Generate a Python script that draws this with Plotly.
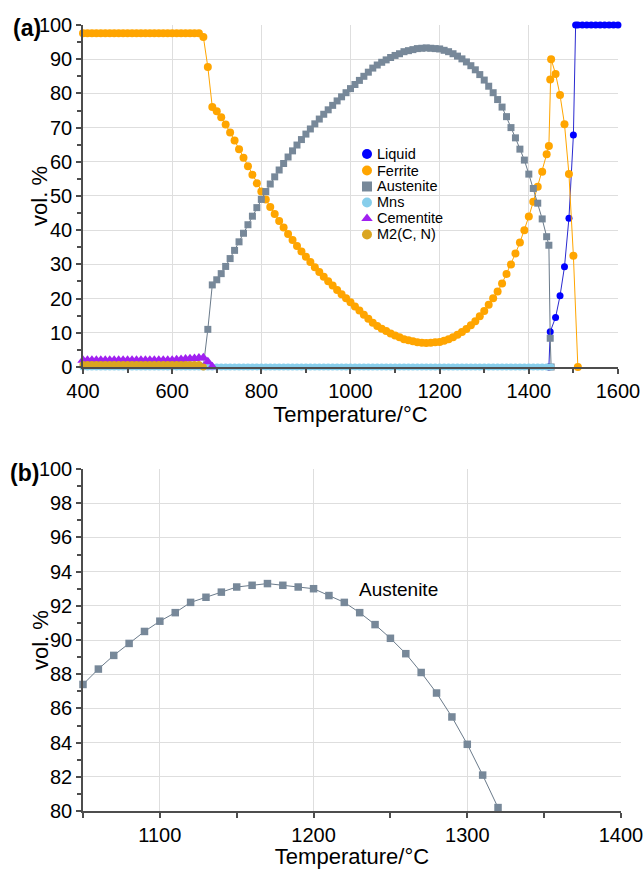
import plotly.graph_objects as go

# ---------------- data ----------------
T_MAIN = [400, 410, 420, 430, 440, 450, 460, 470, 480, 490,
          500, 510, 520, 530, 540, 550, 560, 570, 580, 590,
          600, 610, 620, 630, 640, 650, 660, 670, 680, 690,
          700, 710, 720, 730, 740, 750, 760, 770, 780, 790,
          800, 810, 820, 830, 840, 850, 860, 870, 880, 890,
          900, 910, 920, 930, 940, 950, 960, 970, 980, 990,
          1000, 1010, 1020, 1030, 1040, 1050, 1060, 1070, 1080, 1090,
          1100, 1110, 1120, 1130, 1140, 1150, 1160, 1170, 1180, 1190,
          1200, 1210, 1220, 1230, 1240, 1250, 1260, 1270, 1280, 1290,
          1300, 1310, 1320, 1330, 1340, 1350, 1360, 1370, 1380, 1390,
          1400, 1410, 1420, 1430, 1440]

LIQUID_T = [1445, 1448, 1460, 1470, 1480, 1490, 1500, 1505, 1510, 1520,
            1530, 1540, 1550, 1560, 1570, 1580, 1590, 1600]
LIQUID = [0.0, 10.3, 14.5, 20.8, 29.3, 43.5, 67.8, 100.0, 100.0, 100.0,
          100.0, 100.0, 100.0, 100.0, 100.0, 100.0, 100.0, 100.0]

FERRITE_T = T_MAIN + [1445, 1448, 1450, 1460, 1470, 1480, 1490, 1500, 1510]
FERRITE = [97.6, 97.6, 97.6, 97.6, 97.6, 97.6, 97.6, 97.6, 97.6, 97.6,
           97.6, 97.6, 97.6, 97.6, 97.6, 97.6, 97.6, 97.6, 97.6, 97.6,
           97.6, 97.6, 97.6, 97.6, 97.6, 97.6, 97.6, 96.5, 87.7, 76.0,
           74.8, 73.0, 70.9, 68.6, 66.2, 63.7, 61.2, 58.7, 56.2, 53.7,
           51.3, 49.0, 46.8, 44.7, 42.7, 40.8, 38.9, 37.1, 35.4, 33.8,
           32.2, 30.7, 29.2, 27.8, 26.4, 25.1, 23.8, 22.5, 21.3, 20.1,
           18.9, 17.7, 16.5, 15.3, 14.1, 12.9, 12.0, 11.2, 10.5, 9.8,
           9.2, 8.7, 8.1, 7.8, 7.5, 7.2, 7.1, 7.0, 7.1, 7.2,
           7.3, 7.7, 8.1, 8.7, 9.4, 10.2, 11.1, 12.2, 13.4, 14.8,
           16.4, 18.2, 20.1, 22.1, 24.4, 27.2, 30.0, 33.2, 36.4, 40.0,
           44.0, 48.3, 52.7, 57.1, 62.2,
           64.6, 84.1, 90.0, 85.7, 79.5, 71.0, 56.4, 32.5, 0.0]

AUSTENITE_T = T_MAIN[27:] + [1445, 1448, 1450]
AUSTENITE = [0.2, 11.0, 24.0,
             25.5, 27.3, 29.4, 31.7, 34.1, 36.6, 39.1, 41.6, 44.1, 46.6,
             49.0, 51.3, 53.5, 55.6, 57.6, 59.5, 61.4, 63.2, 64.9, 66.5,
             68.1, 69.6, 71.1, 72.5, 73.9, 75.2, 76.5, 77.8, 79.0, 80.2,
             81.4, 82.6, 83.8, 85.0, 86.2, 87.4, 88.3, 89.1, 89.8, 90.5,
             91.1, 91.6, 92.2, 92.5, 92.8, 93.1, 93.2, 93.3, 93.2, 93.1,
             93.0, 92.6, 92.2, 91.6, 90.9, 90.1, 89.2, 88.1, 86.9, 85.5,
             83.9, 82.1, 80.2, 78.2, 76.0, 73.2, 70.0, 67.0, 63.7, 60.5,
             56.4, 52.2, 47.9, 43.3, 38.1,
             35.6, 8.4, 0.0]

MNS_T = T_MAIN + [1450]
MNS = [0.0, 0.0, 0.0, 0.0, 0.0, 0.0, 0.0, 0.0, 0.0, 0.0,
       0.0, 0.0, 0.0, 0.0, 0.0, 0.0, 0.0, 0.0, 0.0, 0.0,
       0.0, 0.0, 0.0, 0.0, 0.0, 0.0, 0.0, 0.0, 0.0, 0.0,
       0.0, 0.0, 0.0, 0.0, 0.0, 0.0, 0.0, 0.0, 0.0, 0.0,
       0.0, 0.0, 0.0, 0.0, 0.0, 0.0, 0.0, 0.0, 0.0, 0.0,
       0.0, 0.0, 0.0, 0.0, 0.0, 0.0, 0.0, 0.0, 0.0, 0.0,
       0.0, 0.0, 0.0, 0.0, 0.0, 0.0, 0.0, 0.0, 0.0, 0.0,
       0.0, 0.0, 0.0, 0.0, 0.0, 0.0, 0.0, 0.0, 0.0, 0.0,
       0.0, 0.0, 0.0, 0.0, 0.0, 0.0, 0.0, 0.0, 0.0, 0.0,
       0.0, 0.0, 0.0, 0.0, 0.0, 0.0, 0.0, 0.0, 0.0, 0.0,
       0.0, 0.0, 0.0, 0.0, 0.0, 0.0]

CEMENTITE_T = T_MAIN[:30]
CEMENTITE = [2.0, 2.0, 2.0, 2.0, 2.0, 2.0, 2.0, 2.0, 2.0, 2.0,
             2.0, 2.0, 2.0, 2.0, 2.0, 2.0, 2.0, 2.0, 2.0, 2.0,
             2.0, 2.1, 2.2, 2.3, 2.4, 2.5, 2.6, 2.7, 1.5, 0.1]

M2_T = T_MAIN[:28]
M2 = [0.7, 0.7, 0.7, 0.7, 0.7, 0.7, 0.7, 0.7, 0.7, 0.7,
      0.7, 0.7, 0.7, 0.7, 0.7, 0.7, 0.7, 0.7, 0.7, 0.7,
      0.7, 0.7, 0.7, 0.7, 0.7, 0.7, 0.7, 0.0]

# zoomed panel (b): austenite between 1050 and 1320 degC
ZOOM_LO, ZOOM_HI = 1050, 1320
B_T = [t for t in AUSTENITE_T if ZOOM_LO <= t <= ZOOM_HI]
B_A = [a for t, a in zip(AUSTENITE_T, AUSTENITE) if ZOOM_LO <= t <= ZOOM_HI]

PHASES = ["Liquid", "Ferrite", "Austenite", "Mns", "Cementite", "M2(C, N)"]

FONT = "Liberation Sans, Arial, Helvetica, sans-serif"
COLORS = {"Liquid": "#0000FF", "Ferrite": "#FFA500", "Austenite": "#778899",
          "Mns": "#87CEEB", "Cementite": "#A020F0", "M2(C, N)": "#DAA520"}
LINE_COLORS = {"Liquid": "#2a2ad0", "Ferrite": "#FFA500", "Austenite": "#6a7a8a",
               "Mns": "#87CEEB", "Cementite": "#A020F0", "M2(C, N)": "#DAA520"}
SYMBOLS = {"Liquid": "circle", "Ferrite": "circle", "Austenite": "square",
           "Mns": "circle", "Cementite": "triangle-up", "M2(C, N)": "circle"}
SIZES = {"Liquid": 7, "Ferrite": 8, "Austenite": 7, "Mns": 7, "Cementite": 10, "M2(C, N)": 7}
SERIES = {"Liquid": (LIQUID_T, LIQUID), "Ferrite": (FERRITE_T, FERRITE),
          "Austenite": (AUSTENITE_T, AUSTENITE), "Mns": (MNS_T, MNS),
          "Cementite": (CEMENTITE_T, CEMENTITE), "M2(C, N)": (M2_T, M2)}

fig = go.Figure()

for name in PHASES:
    xs, ys = SERIES[name]
    fig.add_trace(go.Scatter(
        x=xs, y=ys, name=name, mode="lines+markers",
        marker=dict(color=COLORS[name], symbol=SYMBOLS[name], size=SIZES[name], line=dict(width=0)),
        line=dict(color=LINE_COLORS[name], width=1),
        xaxis="x", yaxis="y", showlegend=False, cliponaxis=False,
    ))

fig.add_trace(go.Scatter(
    x=B_T, y=B_A, name="Austenite", mode="lines+markers",
    marker=dict(color=COLORS["Austenite"], symbol="square", size=7.5, line=dict(width=0)),
    line=dict(color=LINE_COLORS["Austenite"], width=1),
    xaxis="x2", yaxis="y2", showlegend=False, cliponaxis=False,
))

# legend key (drawn on an invisible pixel-scaled overlay of panel (a))
LEG_X = 367
LEG_TEXT_X = 375
LEG_Y = [154, 170.5, 186.5, 202.5, 218.5, 234.5]
fig.add_trace(go.Scatter(
    x=[LEG_X] * len(PHASES), y=LEG_Y, mode="markers",
    marker=dict(color=[COLORS[p] for p in PHASES], symbol=[SYMBOLS[p] for p in PHASES],
                size=10, line=dict(width=0)),
    xaxis="x3", yaxis="y3", showlegend=False, hoverinfo="skip", cliponaxis=False,
))

axis_common = dict(
    showline=True, linecolor="#4d4d4d", linewidth=1.5,
    ticks="outside", ticklen=5, tickwidth=1.5, tickcolor="#4d4d4d",
    showgrid=True, gridcolor="#dedede", gridwidth=1, automargin=False,
    ticklabeloverflow="allow",
    zeroline=False, tickfont=dict(size=20, color="black", family=FONT),
)

annotations = [
    dict(text="<b>(a)</b>", x=-0.104, y=0.996, xref="paper", yref="paper",
         xanchor="center", yanchor="middle", showarrow=False, font=dict(size=23)),
    dict(text="<b>(b)</b>", x=-0.108, y=0.4305, xref="paper", yref="paper",
         xanchor="center", yanchor="middle", showarrow=False, font=dict(size=23)),
    dict(text="Austenite", x=1255, y=92.93, xref="x2", yref="y2",
         xanchor="center", yanchor="middle", showarrow=False, font=dict(size=19)),
    dict(text="vol. %", x=-0.0799, y=0.7825, xref="paper", yref="paper", textangle=-90,
         xanchor="center", yanchor="middle", showarrow=False, font=dict(size=22)),
    dict(text="vol. %", x=-0.0799, y=0.2175, xref="paper", yref="paper", textangle=-90,
         xanchor="center", yanchor="middle", showarrow=False, font=dict(size=22)),
]
for p, yv in zip(PHASES, LEG_Y):
    annotations.append(dict(text=p, x=LEG_TEXT_X, y=yv, xref="x3", yref="y3",
                            xanchor="left", yanchor="middle", showarrow=False,
                            font=dict(size=14.5, color="black")))

fig.update_layout(
    width=643, height=869,
    margin=dict(l=83, r=22, t=25, b=58),
    paper_bgcolor="white", plot_bgcolor="white",
    font=dict(family=FONT, color="black"),
    showlegend=False,
    xaxis=dict(domain=[0, 0.9944], range=[400, 1600], anchor="y",
               tick0=400, dtick=200,
               minor=dict(dtick=100, ticks="outside", ticklen=4, tickcolor="#4d4d4d", showgrid=False),
               title=dict(text="Temperature/°C", font=dict(size=22), standoff=3),
               **axis_common),
    yaxis=dict(domain=[0.5649, 1], range=[0, 100], anchor="x",
               tick0=0, dtick=10,
               minor=dict(dtick=5, ticks="outside", ticklen=4, tickcolor="#4d4d4d", showgrid=False),
               **axis_common),
    xaxis2=dict(domain=[0, 1], range=[1050, 1400], anchor="y2",
                tickmode="array", tickvals=[1100, 1200, 1300, 1400],
                minor=dict(tick0=1050, dtick=50, ticks="outside", ticklen=5, tickcolor="#4d4d4d", showgrid=False),
                title=dict(text="Temperature/°C", font=dict(size=22), standoff=3),
                **axis_common),
    yaxis2=dict(domain=[0, 0.4351], range=[80, 100], anchor="x2",
                tick0=80, dtick=2,
                minor=dict(dtick=1, ticks="outside", ticklen=4, tickcolor="#4d4d4d", showgrid=False),
                **axis_common),
    xaxis3=dict(overlaying="x", range=[83, 618], visible=False, fixedrange=True),
    yaxis3=dict(overlaying="y", range=[367, 25], visible=False, fixedrange=True),
    annotations=annotations,
)

fig.write_html("out.html")
